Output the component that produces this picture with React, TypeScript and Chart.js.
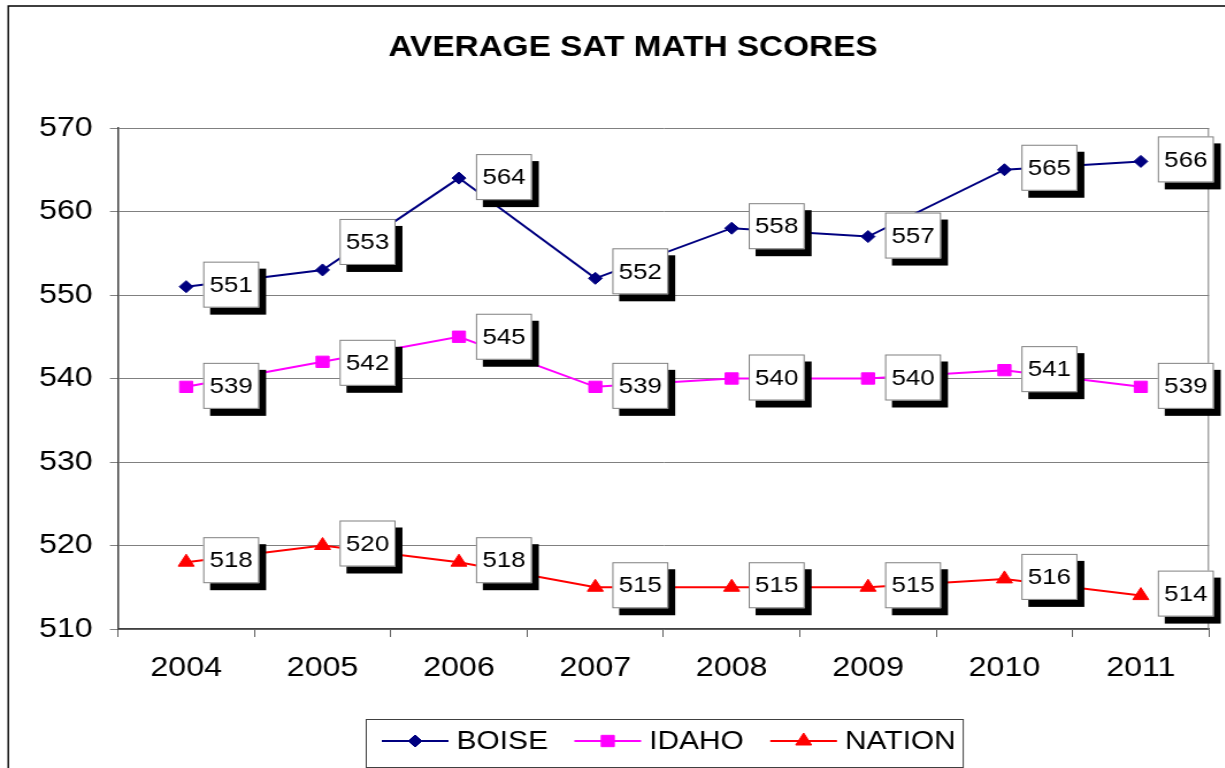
import React, { useEffect, useRef } from "react";
import { Chart, registerables } from "chart.js";

Chart.register(...registerables);

// ---------------- data ----------------
const years = ["2004", "2005", "2006", "2007", "2008", "2009", "2010", "2011"];
const boise = [551, 553, 564, 552, 558, 557, 565, 566];
const idaho = [539, 542, 545, 539, 540, 540, 541, 539];
const nation = [518, 520, 518, 515, 515, 515, 516, 514];
const yMin = 510;
const yMax = 570;
const yStep = 10;
const seriesNames = ["BOISE", "IDAHO", "NATION"];
const chartTitle = "AVERAGE SAT MATH SCORES";

// ---------------- layout / style ----------------
const SX = 1.15; // horizontal stretch of the original picture
const PAGE_W = 1225;
const PAGE_H = 768;
const CW = Math.ceil(PAGE_W / SX);
const CH = PAGE_H;
const AREA_LEFT = 118 / SX;
const AREA_RIGHT = 1209 / SX;
const AREA_TOP = 128;
const AREA_BOTTOM = 629;
const X_AXIS_H = 60;
const FONT = "'Liberation Sans', Arial, Helvetica, sans-serif";
const TICK_FONT = 28;

const NAVY = "#000080";
const MAGENTA = "#FF00FF";
const RED = "#FF0000";
const seriesColors = [NAVY, MAGENTA, RED];
const seriesStyles = ["rectRot", "rect", "triangle"];
const seriesRadius = [6, 8, 8];

// vertical shift of each data label box (px) relative to its point
const labelShiftBoise = [-2, -28, -1, -7, -2, -1, -2, -2];
const labelShiftIdaho = [-1, 1, 0, -1, -1, -1, -1, -1];
const labelShiftNation = [-2, -2, -2, -2, -2, -2, -2, -2];
const labelShifts = [labelShiftBoise, labelShiftIdaho, labelShiftNation];

function drawMarker(ctx: CanvasRenderingContext2D, style: string, x: number, y: number, r: number, color: string) {
  ctx.save();
  ctx.fillStyle = color;
  ctx.strokeStyle = color;
  ctx.lineWidth = 1;
  ctx.beginPath();
  if (style === "rectRot") {
    ctx.moveTo(x, y - r);
    ctx.lineTo(x + r, y);
    ctx.lineTo(x, y + r);
    ctx.lineTo(x - r, y);
  } else if (style === "rect") {
    const s = r * Math.SQRT1_2;
    ctx.rect(x - s, y - s, 2 * s, 2 * s);
  } else {
    for (let k = 0; k < 3; k++) {
      const a = (k * 2 * Math.PI) / 3;
      const px = x + Math.sin(a) * r;
      const py = y - Math.cos(a) * r;
      if (k === 0) ctx.moveTo(px, py);
      else ctx.lineTo(px, py);
    }
  }
  ctx.closePath();
  ctx.fill();
  ctx.stroke();
  ctx.restore();
}

const decorPlugin = {
  id: "decor",
  beforeDraw(chart: any) {
    const ctx = chart.ctx as CanvasRenderingContext2D;
    ctx.save();
    ctx.fillStyle = "#ffffff";
    ctx.fillRect(0, 0, chart.width, chart.height);
    // outer chart border (only left and top are inside the picture)
    ctx.strokeStyle = "#000000";
    ctx.lineWidth = 1.4;
    ctx.beginPath();
    ctx.moveTo(7.2, CH + 2);
    ctx.lineTo(7.2, 6);
    ctx.lineTo(CW + 2, 6);
    ctx.stroke();
    // title
    ctx.fillStyle = "#000000";
    ctx.font = `bold 29px ${FONT}`;
    ctx.textAlign = "center";
    ctx.textBaseline = "middle";
    ctx.fillText(chartTitle, 633 / SX, 48);
    ctx.restore();
  },
  beforeDatasetsDraw(chart: any) {
    const ctx = chart.ctx as CanvasRenderingContext2D;
    const a = chart.chartArea;
    ctx.save();
    ctx.strokeStyle = "#808080";
    ctx.lineWidth = 1;
    ctx.beginPath();
    ctx.moveTo(a.right - 0.5, a.top);
    ctx.lineTo(a.right - 0.5, a.bottom);
    ctx.stroke();
    ctx.restore();
  },
  afterDatasetsDraw(chart: any) {
    const ctx = chart.ctx as CanvasRenderingContext2D;
    const w = 56 / SX;
    const h = 46;
    ctx.save();
    ctx.font = `22.5px ${FONT}`;
    ctx.textAlign = "center";
    ctx.textBaseline = "middle";
    chart.data.datasets.forEach((ds: any, di: number) => {
      const meta = chart.getDatasetMeta(di);
      meta.data.forEach((pt: any, i: number) => {
        const cy = pt.y + labelShifts[di][i];
        const x0 = pt.x + 17 / SX;
        const y0 = cy - h / 2;
        ctx.fillStyle = "#000000";
        ctx.fillRect(x0 + 6, y0 + 7, w, h);
        ctx.fillStyle = "#ffffff";
        ctx.fillRect(x0, y0, w, h);
        ctx.strokeStyle = "#808080";
        ctx.lineWidth = 1;
        ctx.strokeRect(x0 + 0.5, y0 + 0.5, w - 1, h - 1);
        ctx.fillStyle = "#000000";
        ctx.fillText(String(ds.data[i]), x0 + w / 2, cy + 1);
      });
    });
    ctx.restore();
  },
  afterDraw(chart: any) {
    const ctx = chart.ctx as CanvasRenderingContext2D;
    ctx.save();
    ctx.font = `26px ${FONT}`;
    ctx.textBaseline = "middle";
    ctx.textAlign = "left";
    const lineLen = 58;
    const gapText = 7;
    const gapItem = 23;
    const padL = 14;
    const padR = 6;
    const widths = seriesNames.map((n) => ctx.measureText(n).width);
    let total = padL + padR;
    widths.forEach((tw, i) => {
      total += lineLen + gapText + tw + (i < widths.length - 1 ? gapItem : 0);
    });
    const boxLeft = 318;
    const boxTop = 719;
    const boxBottom = 767;
    ctx.fillStyle = "#ffffff";
    ctx.fillRect(boxLeft, boxTop, total, boxBottom - boxTop);
    ctx.strokeStyle = "#404040";
    ctx.lineWidth = 1;
    ctx.strokeRect(boxLeft + 0.5, boxTop + 0.5, total, boxBottom - boxTop);
    const y = 741;
    let x = boxLeft + padL;
    seriesNames.forEach((name, i) => {
      ctx.strokeStyle = seriesColors[i];
      ctx.lineWidth = 2;
      ctx.beginPath();
      ctx.moveTo(x, y);
      ctx.lineTo(x + lineLen, y);
      ctx.stroke();
      drawMarker(ctx, seriesStyles[i], x + lineLen / 2, y, i === 0 ? 6 : 8, seriesColors[i]);
      ctx.fillStyle = "#000000";
      ctx.fillText(name, x + lineLen + gapText, y + 1);
      x += lineLen + gapText + widths[i] + gapItem;
    });
    ctx.restore();
  },
};

export default function App() {
  const canvasRef = useRef<HTMLCanvasElement | null>(null);

  useEffect(() => {
    const canvas = canvasRef.current;
    if (!canvas) return;
    const seriesData = [boise, idaho, nation];
    const chart = new Chart(canvas, {
      type: "line",
      data: {
        labels: years,
        datasets: seriesNames.map((name, i) => ({
          label: name,
          data: seriesData[i],
          borderColor: seriesColors[i],
          backgroundColor: seriesColors[i],
          pointBackgroundColor: seriesColors[i],
          pointBorderColor: seriesColors[i],
          pointStyle: seriesStyles[i] as any,
          pointRadius: seriesRadius[i],
          pointHoverRadius: seriesRadius[i],
          pointBorderWidth: 1,
          borderWidth: 2,
          tension: 0,
          fill: false,
        })),
      },
      options: {
        animation: false,
        responsive: false,
        maintainAspectRatio: false,
        devicePixelRatio: 1,
        events: [],
        layout: {
          padding: {
            left: 0,
            right: CW - AREA_RIGHT,
            top: AREA_TOP,
            bottom: CH - AREA_BOTTOM - X_AXIS_H,
          },
        },
        plugins: {
          legend: { display: false },
          title: { display: false },
          tooltip: { enabled: false },
        },
        scales: {
          x: {
            type: "category",
            offset: true,
            grid: {
              display: true,
              offset: true,
              drawOnChartArea: false,
              drawTicks: true,
              tickLength: 8,
              color: "#606060",
              tickColor: "#606060",
            },
            border: { display: true, color: "#404040", width: 1.5 },
            ticks: {
              color: "#000000",
              font: { family: FONT, size: TICK_FONT },
              padding: 14,
              maxRotation: 0,
              autoSkip: false,
            },
            afterFit: (scale: any) => {
              scale.height = X_AXIS_H;
            },
          },
          y: {
            type: "linear",
            min: yMin,
            max: yMax,
            grid: {
              display: true,
              color: "#808080",
              tickColor: "#808080",
              drawTicks: true,
              tickLength: 7,
              lineWidth: 1,
            },
            border: { display: true, color: "#404040", width: 1.5 },
            ticks: {
              stepSize: yStep,
              color: "#000000",
              font: { family: FONT, size: TICK_FONT },
              padding: 15,
            },
            afterFit: (scale: any) => {
              scale.width = AREA_LEFT;
            },
          },
        },
      },
      plugins: [decorPlugin],
    });
    return () => {
      chart.destroy();
    };
  }, []);

  return (
    <div
      style={{
        position: "absolute",
        left: 0,
        top: 0,
        width: PAGE_W,
        height: PAGE_H,
        overflow: "hidden",
        background: "#ffffff",
      }}
    >
      <canvas
        ref={canvasRef}
        width={CW}
        height={CH}
        style={{
          display: "block",
          transform: `scaleX(${SX})`,
          transformOrigin: "0 0",
        }}
      />
    </div>
  );
}
